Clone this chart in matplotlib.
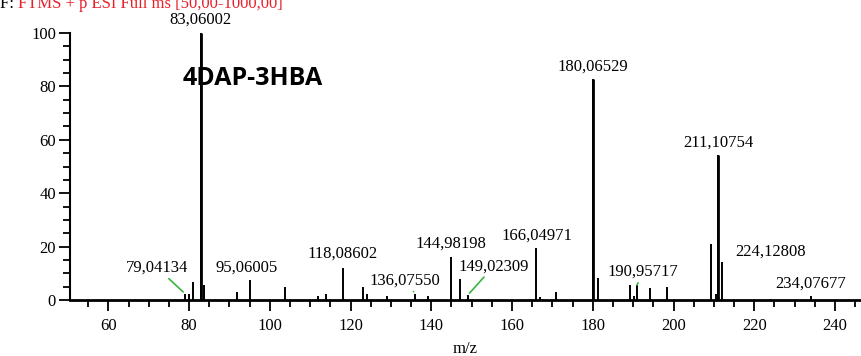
import matplotlib.pyplot as plt
from matplotlib.ticker import MultipleLocator

# espectro de masas, pico base a 83
mz = [78.9, 80.1, 80.9, 83.06002, 83.8, 91.8, 95.06005, 103.8, 111.9, 113.9,
      118.08602, 123.2, 124.1, 129.0, 136.07550, 139.1, 144.98198, 147.1,
      149.02309, 166.04971, 167.0, 170.9, 180.06529, 181.2, 189.2, 190.2,
      190.95717, 194.2, 198.4, 209.3, 210.5, 211.10754, 212.1, 224.12808,
      234.07677]
intensidad = [2.3, 2.3, 6.9, 100, 5.7, 2.9, 7.5, 5.0, 1.6, 2.3,
              12.1, 5.0, 2.3, 1.6, 2.3, 1.6, 16.0, 7.7,
              1.8, 19.4, 1.0, 2.9, 82.7, 8.2, 5.6, 1.6,
              5.6, 4.4, 5.0, 20.9, 2.3, 54.3, 14.2, 0.5,
              1.5]

# picos etiquetados: (m/z, desplazamiento del texto en px, linea verde)
etiquetas = [
    (83.06002, (-1, 13), False),
    (79.04134, (-28, 26), True),
    (95.06005, (-3, 12), False),
    (118.08602, (0, 14), False),
    (136.07550, (-11, 13), True),
    (144.98198, (0, 14), False),
    (149.02309, (26, 29), True),
    (166.04971, (0, 13), False),
    (180.06529, (0, 13), False),
    (190.95717, (6, 13), True),
    (211.10754, (0, 12), False),
    (224.12808, (0, 47), False),
    (234.07677, (0, 12), False),
]

plt.rcParams['font.family'] = ['Liberation Serif', 'DejaVu Serif']
plt.rcParams['font.size'] = 12

fig = plt.figure(figsize=(8.62, 3.56), dpi=100)
ax = fig.add_axes([70 / 862, 56 / 356, 790 / 862, 267 / 356])

ax.vlines(mz, 0, intensidad, color='black', lw=1.4)

# los picos grandes un poco mas gruesos
grandes = [k for k in range(len(mz)) if intensidad[k] > 50]
ax.vlines([mz[k] for k in grandes], 0, [intensidad[k] for k in grandes],
          color='black', lw=2)

for m, (dx, dy), linea in etiquetas:
    # el pico mas cercano da la altura
    i = min(range(len(mz)), key=lambda k: abs(mz[k] - m))
    props = None
    if linea:
        props = dict(arrowstyle='-', color='#3cb43c', lw=1.2, shrinkA=0, shrinkB=2)
    ax.annotate(f'{m:.5f}'.replace('.', ','), xy=(m, intensidad[i]),
                xytext=(dx, dy), textcoords='offset pixels',
                ha='center', va='center', fontsize=12, arrowprops=props,
                annotation_clip=False)

ax.text(95.8, 83.1, '4DAP-3HBA', fontsize=18, fontweight='bold',
        family=['Open Sans', 'DejaVu Sans'], ha='center', va='center')

ax.set_xlim(50.5, 246.2)
ax.set_ylim(0, 100)
ax.xaxis.set_major_locator(MultipleLocator(20))
ax.xaxis.set_minor_locator(MultipleLocator(5))
ax.yaxis.set_major_locator(MultipleLocator(20))
ax.yaxis.set_minor_locator(MultipleLocator(5))
ax.tick_params(which='major', direction='out', length=8, width=1.3, pad=2)
ax.tick_params(which='minor', direction='out', length=4.8, width=1.3)
ax.tick_params(axis='x', which='major', pad=5)
for s in ['top', 'right']:
    ax.spines[s].set_visible(False)
ax.spines['bottom'].set_linewidth(2)
ax.spines['left'].set_linewidth(1.5)
ax.set_xlabel('m/z', fontsize=12, labelpad=5)

t1 = fig.text(0.0, 1 - 8 / 356, 'F: ', fontsize=12, va='baseline', ha='left')
ax.annotate('FTMS + p ESI Full ms [50,00-1000,00]', xy=(1, 0), xycoords=t1,
            va='bottom', ha='left', fontsize=12, color='#e8202a')

fig.savefig('out.png', dpi=100)
